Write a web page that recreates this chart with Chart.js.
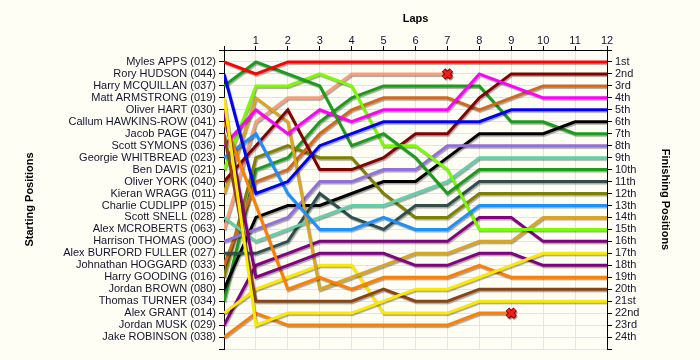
<!DOCTYPE html>
<html>
<head>
<meta charset="utf-8">
<script src="https://cdn.jsdelivr.net/npm/chart.js@4.4.1/dist/chart.umd.min.js"></script>
<style>
    html, body { margin: 0; padding: 0; background: #fffef4; }
    #wrap { width: 700px; height: 360px; }
</style>
</head>
<body>
<div id="wrap"><canvas id="canvas-lap-chart"></canvas></div>
<script>
// laps along the top
const laps = [0, 1, 2, 3, 4, 5, 6, 7, 8, 9, 10, 11, 12];

// drivers in starting order (left axis)
const starters = [
    'Myles APPS (012)', 'Rory HUDSON (044)', 'Harry MCQUILLAN (037)', 'Matt ARMSTRONG (019)',
    'Oliver HART (030)', 'Callum HAWKINS-ROW (041)', 'Jacob PAGE (047)', 'Scott SYMONS (036)',
    'Georgie WHITBREAD (023)', 'Ben DAVIS (021)', 'Oliver YORK (040)', 'Kieran WRAGG (011)',
    'Charlie CUDLIPP (015)', 'Scott SNELL (028)', 'Alex MCROBERTS (063)', 'Harrison THOMAS (00O)',
    'Alex BURFORD FULLER (027)', 'Johnathan HOGGARD (033)', 'Harry GOODING (016)', 'Jordan BROWN (080)',
    'Thomas TURNER (034)', 'Alex GRANT (014)', 'Jordan MUSK (029)', 'Jake ROBINSON (038)'
];

// right axis
const finishLabels = [
    '1st', '2nd', '3rd', '4th', '5th', '6th', '7th', '8th', '9th', '10th', '11th', '12th',
    '13th', '14th', '15th', '16th', '17th', '18th', '19th', '20th', '21st', '22nd', '23rd', '24th'
];

// position of each driver at every lap (same order as starters)
const positions = [
    [1, 2, 1, 1, 1, 1, 1, 1, 1, 1, 1, 1, 1],
    [2, 12, 11, 8, 7, 6, 6, 6, 6, 5, 5, 5, 5],
    [3, 1, 2, 3, 8, 7, 9, 12, 10, 10, 10, 10, 10],
    [4, 23, 22, 22, 22, 21, 20, 20, 19, 18, 17, 17, 17],
    [5, 19, 18, 17, 17, 17, 18, 18, 17, 17, 18, 18, 18],
    [6, 13, 20, 19, 20, 19, 19, 19, 18, 19, 19, 19, 19],
    [7, 21, 21, 21, 21, 20, 21, 21, 20, 20, 20, 20, 20],
    [8, 5, 7, 5, 6, 5, 5, 5, 2, 3, 4, 4, 4],
    [9, 7, 12, 15, 15, 14, 15, 15, 13, 13, 13, 13, 13],
    [10, 3, 3, 2, 3, 8, 8, 10, 15, 15, 15, 15, 15],
    [11, 8, 5, 10, 10, 9, 7, 7, 4, 2, 2, 2, 2],
    [12, 4, 6, 20, 19, 18, 17, 17, 16, 16, 14, 14, 14],
    [13],
    [14, 16, 15, 14, 13, 13, 12, 11, 9, 9, 9, 9, 9],
    [15, 6, 4, 4, 2, 2, 2, 2],
    [16, 15, 14, 11, 11, 10, 10, 8, 8, 8, 8, 8, 8],
    [17, 17, 16, 12, 14, 15, 13, 13, 11, 11, 11, 11, 11],
    [18, 11, 10, 7, 5, 4, 4, 4, 5, 4, 3, 3, 3],
    [19, 9, 8, 9, 9, 12, 14, 14, 12, 12, 12, 12, 12],
    [20, 14, 13, 13, 12, 11, 11, 9, 7, 7, 7, 6, 6],
    [21, 10, 9, 6, 4, 3, 3, 3, 3, 6, 6, 7, 7],
    [22, 20, 19, 18, 18, 22, 22, 22, 21, 21, 21, 21, 21],
    [23, 18, 17, 16, 16, 16, 16, 16, 14, 14, 16, 16, 16],
    [24, 22, 23, 23, 23, 23, 23, 23, 22, 22]
];

const colours = [
    '#ff0000', '#0000f0', '#1c9c1c', '#ffe800', '#800080', '#ff8000', '#8b4513', '#ff00ff',
    '#1e90ff', '#7cfc00', '#800000', '#daa520', '#999999', '#66cdaa', '#f5a07c', '#9370db',
    '#2f4f4f', '#d2691e', '#808000', '#000000', '#1c9c1c', '#ffe800', '#800080', '#ff8000'
];

const fontFamily = "'Liberation Sans', Arial, sans-serif";
const textColour = '#141432';

// grey drop shadow under the lines
const shadowPlugin = {
    id: 'shadow',
    beforeDatasetsDraw(chart) {
        const ctx = chart.ctx;
        ctx.save();
        ctx.shadowColor = 'rgba(0,0,0,0.35)';
        ctx.shadowOffsetX = 1;
        ctx.shadowOffsetY = 1.5;
        ctx.shadowBlur = 1;
    },
    afterDatasetsDraw(chart) {
        chart.ctx.restore();
    }
};

const datasets = [];
const retired = [];
positions.forEach((row, i) => {
    datasets.push({
        label: starters[i],
        data: row.map((p, lap) => ({ x: laps[lap], y: p })),
        borderColor: colours[i],
        backgroundColor: colours[i],
        borderWidth: 3,
        pointRadius: 0,
        tension: 0
    });
    // drivers who stopped before the end get an X
    if (row.length > 1 && row.length < laps.length) {
        retired.push({ x: laps[row.length - 1], y: row[row.length - 1] });
    }
});

datasets.push({
    data: retired, showLine: false, order: -1,
    pointStyle: 'crossRot', pointRadius: 5.5, pointBorderWidth: 5,
    pointBorderColor: '#7a0000', pointBackgroundColor: '#7a0000'
});
datasets.push({
    data: retired, showLine: false, order: -2,
    pointStyle: 'crossRot', pointRadius: 5, pointBorderWidth: 3,
    pointBorderColor: '#ff1a1a', pointBackgroundColor: '#ff1a1a'
});

const tickFont = { family: fontFamily, size: 11 };
const titleFont = { family: fontFamily, size: 11, weight: 'bold' };

const config = {
    type: 'line',
    data: { datasets: datasets },
    options: {
        responsive: true,
        maintainAspectRatio: false,
        animation: false,
        layout: { padding: { top: 0, bottom: 11, left: 0, right: 0 } },
        plugins: { legend: { display: false }, tooltip: { enabled: false } },
        scales: {
            x: {
                type: 'linear', position: 'top', min: 0, max: 12,
                ticks: {
                    stepSize: 1, autoSkip: false, padding: -2, color: textColour, font: tickFont,
                    callback: v => v === 0 ? '' : String(v)
                },
                grid: { color: '#e4e4e4', tickColor: '#000', tickLength: 4 },
                border: { color: '#000' },
                title: { display: true, text: 'Laps', color: '#000', font: titleFont, padding: { top: 12, bottom: 0 } },
                afterFit: s => { s.height = 50; }
            },
            y: {
                type: 'linear', position: 'left', reverse: true, min: 0, max: 25,
                ticks: {
                    stepSize: 1, autoSkip: false, padding: 3, color: textColour, font: tickFont,
                    callback: v => starters[v - 1] || ''
                },
                grid: { color: '#e4e4e4', tickColor: '#000', tickLength: 5 },
                border: { color: '#000' },
                title: { display: true, text: 'Starting Positions', color: '#000', font: titleFont, padding: { top: 23, bottom: 0 } },
                afterFit: s => { s.width = 224; }
            },
            y2: {
                type: 'linear', position: 'right', reverse: true, min: 0, max: 25,
                ticks: {
                    stepSize: 1, autoSkip: false, padding: 3, color: textColour, font: tickFont,
                    callback: v => finishLabels[v - 1] || ''
                },
                grid: { drawOnChartArea: false, tickColor: '#000', tickLength: 5 },
                border: { color: '#000' },
                title: { display: true, text: 'Finishing Positions', color: '#000', font: titleFont, padding: { top: 28, bottom: 0 } },
                afterFit: s => { s.width = 93; }
            }
        }
    },
    plugins: [shadowPlugin]
};

var ctx = document.getElementById('canvas-lap-chart').getContext('2d');
var lapChart = new Chart(ctx, config);
</script>
</body>
</html>
